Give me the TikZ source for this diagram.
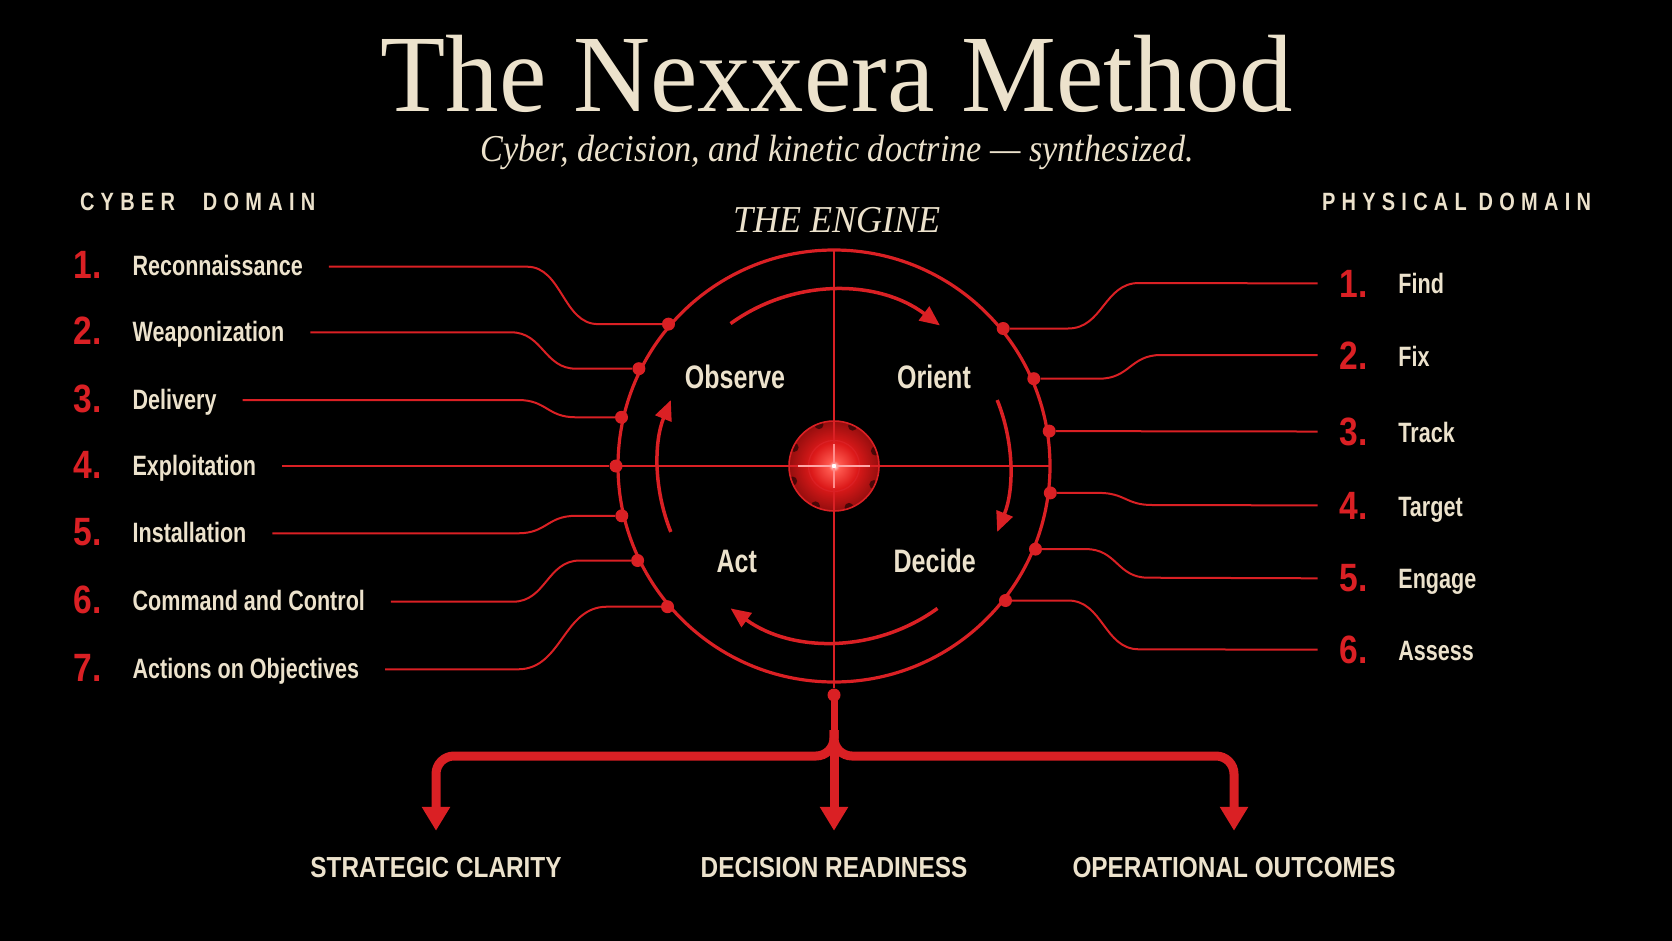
\documentclass[tikz,border=0pt]{standalone}
\usepackage{fontspec}
\usetikzlibrary{arrows.meta,calc}
\newfontfamily\titlefont[FakeStretch=0.97]{Liberation Serif}
\newfontfamily\subfont[FakeStretch=0.9]{Liberation Serif}
\newfontfamily\engfont[FakeStretch=0.95]{Liberation Serif}
\newfontfamily\condfont[FakeStretch=0.77]{Liberation Sans}
\newfontfamily\numfont[FakeStretch=0.85]{Liberation Sans}
\newfontfamily\headfont[FakeStretch=0.8,LetterSpace=25]{Liberation Sans}
\newfontfamily\botfont[FakeStretch=0.84]{Liberation Sans}
\definecolor{nred}{RGB}{218,32,36}
\definecolor{cream}{RGB}{236,226,204}
\definecolor{hubA}{RGB}{255,90,80}
\definecolor{hubB}{RGB}{220,25,25}
\definecolor{hubC}{RGB}{125,10,10}
\definecolor{hubD}{RGB}{55,5,5}
\pgfdeclareradialshading{hubglow}{\pgfpoint{0bp}{0bp}}{color(0bp)=(white); color(3bp)=(hubA); color(13bp)=(hubB); color(29bp)=(hubC); color(50bp)=(hubD)}
\begin{document}
\begin{tikzpicture}[x=1pt,y=-1pt,
  txt/.style={inner sep=0pt,outer sep=0pt,text=cream},
  lab/.style={txt,anchor=base west,font=\condfont\bfseries\fontsize{28}{28}\selectfont},
  quad/.style={txt,anchor=base,font=\condfont\bfseries\fontsize{32.5}{32.5}\selectfont},
  num/.style={inner sep=0pt,outer sep=0pt,text=nred,anchor=base west,font=\numfont\bfseries\fontsize{39.5}{40}\selectfont},
  head/.style={txt,anchor=base west,font=\headfont\bfseries\fontsize{25}{25}\selectfont},
  bot/.style={txt,anchor=base,font=\botfont\bfseries\fontsize{29}{29}\selectfont},
  conn/.style={draw=nred,line width=2pt},
  dot/.style={circle,fill=nred,inner sep=0pt,minimum size=13pt},
  ring/.style={draw=nred,line width=3.2pt},
  crossl/.style={draw=nred,line width=1.8pt},
  cyc/.style={draw=nred,line width=3.5pt,-{Triangle[length=20pt,width=17pt]}},
  bar/.style={draw=nred,line width=9pt,-{Triangle[length=24pt,width=27pt]}}
]
\useasboundingbox (0,0) rectangle (1672,941);
\fill[black] (0,0) rectangle (1672,941);

% titles
\node[txt,anchor=base,font=\titlefont\fontsize{110}{110}\selectfont] (title) at (837,112) {The Nexxera Method};
\node[txt,anchor=base,font=\subfont\itshape\fontsize{38}{38}\selectfont] (subtitle) at (837,162) {Cyber, decision, and kinetic doctrine — synthesized.};
\node[txt,anchor=base,font=\engfont\itshape\fontsize{38}{38}\selectfont] (engine) at (837,233) {THE ENGINE};
\node[head] (cyberh) at (80,210.7) {CYBER\hspace{28pt}DOMAIN};
\node[head] (physh) at (1322,210.7) {PHYSICAL DOMAIN};

\coordinate (C) at (834,466);

% engine circle
\draw[ring] (C) circle[radius=216pt];

% hub
\shade[shading=hubglow] (C) circle[radius=45pt];
\foreach \a in {20,65,110,155,200,245,290,335}
  \fill[black,opacity=0.55] ($(C)+(\a:44pt)$) circle[radius=4.5pt];
\draw[nred,line width=1.6pt] (C) circle[radius=45pt];
\draw[nred,line width=1.3pt] (C) circle[radius=25.5pt];

% cross lines
\node[dot] (sd) at (834,695) {};
\draw[crossl] (834,250) -- (sd);
\draw[crossl] (618,466) -- (1050,466);
\draw[line width=1.8pt,red!35!white] (798,466) -- (870,466);
\draw[line width=1.5pt,red!45!white] (834,444) -- (834,488);
\fill[white] (C) circle[radius=2.2pt];

% cycle arrows
\draw[cyc] ($(C)+(126:176pt)$) arc[start angle=126,end angle=53,radius=176pt];
\draw[cyc] ($(C)+(22:176pt)$) arc[start angle=22,end angle=-22,radius=176pt];
\draw[cyc] ($(C)+(-54:176pt)$) arc[start angle=-54,end angle=-126,radius=176pt];
\draw[cyc] ($(C)+(202:176pt)$) arc[start angle=202,end angle=158,radius=176pt];

\node[quad] (observe) at (735,388.3) {Observe};
\node[quad] (orient) at (934,388.3) {Orient};
\node[quad] (act) at (736.7,572.7) {Act};
\node[quad] (decide) at (934.7,572.7) {Decide};

% left list
\node[num] (ln1) at (73.7,278.7) {1.};
\node[num] (ln2) at (73.7,344.3) {2.};
\node[num] (ln3) at (73.7,412) {3.};
\node[num] (ln4) at (73.7,478) {4.};
\node[num] (ln5) at (73.7,545.3) {5.};
\node[num] (ln6) at (73.7,613.7) {6.};
\node[num] (ln7) at (73.7,681.3) {7.};
\node[lab] (l1) at (132.6,275.7) {Reconnaissance};
\node[lab] (l2) at (132.6,341.3) {Weaponization};
\node[lab] (l3) at (132.6,409) {Delivery};
\node[lab] (l4) at (132.6,475) {Exploitation};
\node[lab] (l5) at (132.6,542.3) {Installation};
\node[lab] (l6) at (132.6,610.7) {Command and Control};
\node[lab] (l7) at (132.6,678.3) {Actions on Objectives};

\node[dot] (cl1) at (668.5,324.1) {};
\node[dot] (cl2) at (638.9,368.7) {};
\node[dot] (cl3) at (621.5,417.3) {};
\node[dot] (cl4) at (616,466) {};
\node[dot] (cl5) at (621.8,515.8) {};
\node[dot] (cl6) at (637.6,560.5) {};
\node[dot] (cl7) at (667.5,606.7) {};

\draw[conn] ([xshift=26pt,yshift=9pt]l1.base east) -- (527,266.7) .. controls (562,266.7) and (563,324.1) .. (598,324.1) -- (cl1);
\draw[conn] ([xshift=26pt,yshift=9pt]l2.base east) -- (511,332.3) .. controls (543,332.3) and (544,368.7) .. (576,368.7) -- (cl2);
\draw[conn] ([xshift=26pt,yshift=9pt]l3.base east) -- (518,400) .. controls (547,400) and (547,417.3) .. (576,417.3) -- (cl3);
\draw[conn] ([xshift=26pt,yshift=9pt]l4.base east) -- (cl4);
\draw[conn] ([xshift=26pt,yshift=9pt]l5.base east) -- (518,533.3) .. controls (547,533.3) and (547,515.8) .. (576,515.8) -- (cl5);
\draw[conn] ([xshift=26pt,yshift=9pt]l6.base east) -- (513,601.7) .. controls (546,601.7) and (547,560.5) .. (580,560.5) -- (cl6);
\draw[conn] ([xshift=26pt,yshift=9pt]l7.base east) -- (518,669.3) .. controls (562,669.3) and (563,606.7) .. (607,606.7) -- (cl7);

% right list
\node[num] (rn1) at (1339.7,297) {1.};
\node[num] (rn2) at (1339.7,369) {2.};
\node[num] (rn3) at (1339.7,445.1) {3.};
\node[num] (rn4) at (1339.7,519) {4.};
\node[num] (rn5) at (1339.7,591.7) {5.};
\node[num] (rn6) at (1339.7,663.3) {6.};
\node[lab] (r1) at (1398.4,294) {Find};
\node[lab] (r2) at (1398.4,366) {Fix};
\node[lab] (r3) at (1398.4,442.1) {Track};
\node[lab] (r4) at (1398.4,516) {Target};
\node[lab] (r5) at (1398.4,588.7) {Engage};
\node[lab] (r6) at (1398.4,660.3) {Assess};

\node[dot] (cr1) at (1003.2,328.5) {};
\node[dot] (cr2) at (1033.8,378.7) {};
\node[dot] (cr3) at (1049.2,431.1) {};
\node[dot] (cr4) at (1050.3,492.9) {};
\node[dot] (cr5) at (1035.5,549.1) {};
\node[dot] (cr6) at (1005.5,600.5) {};

\draw[conn] (cr1) -- (1068,328.5) .. controls (1103,328.5) and (1104,283) .. (1139,283) -- ([xshift=-22pt]rn1.west);
\draw[conn] (cr2) -- (1099,378.7) .. controls (1130,378.7) and (1130,355) .. (1161,355) -- ([xshift=-22pt]rn2.west);
\draw[conn] (cr3) -- ([xshift=-22pt]rn3.west);
\draw[conn] (cr4) -- (1099,492.9) .. controls (1125,492.9) and (1126,505) .. (1152,505) -- ([xshift=-22pt]rn4.west);
\draw[conn] (cr5) -- (1086,549.1) .. controls (1117,549.1) and (1117,577.7) .. (1148,577.7) -- ([xshift=-22pt]rn5.west);
\draw[conn] (cr6) -- (1068,600.5) .. controls (1103,600.5) and (1104,649.3) .. (1139,649.3) -- ([xshift=-22pt]rn6.west);

% outcomes
\node[bot] (b1) at (436,877) {STRATEGIC CLARITY};
\node[bot] (b2) at (834,877) {DECISION READINESS};
\node[bot] (b3) at (1234,877) {OPERATIONAL OUTCOMES};

\draw[nred,line width=7pt] (sd.center) -- (834,745);
\draw[bar,rounded corners=18pt] (834,730) -- (834,756) -| ([yshift=26pt]b1.north);
\draw[bar,rounded corners=18pt] (834,730) -- (834,756) -| ([yshift=26pt]b3.north);
\draw[bar] (834,740) -- ([yshift=26pt]b2.north);
\end{tikzpicture}
\end{document}
